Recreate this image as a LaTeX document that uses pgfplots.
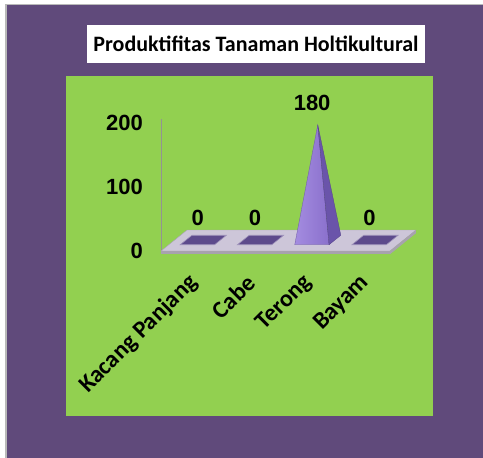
\documentclass[border=0pt]{standalone}
\usepackage{pgfplots}
\pgfplotsset{compat=1.18}
\usepackage{fontspec}
\setmainfont{Carlito}
\newfontfamily\arialf{Liberation Sans}
\definecolor{bgpurple}{HTML}{604A7B}
\definecolor{chartgreen}{HTML}{92D050}
\definecolor{floorc}{HTML}{CDC6D9}
\definecolor{flooredge}{HTML}{A7A2AE}
\definecolor{barc}{HTML}{5D4A8C}
\definecolor{pyrlight}{HTML}{A48CE0}
\definecolor{pyrmid}{HTML}{8A70CC}
\definecolor{pyrdark}{HTML}{6A54AA}
\begin{document}
\begin{tikzpicture}
\useasboundingbox (0,0) rectangle (483pt,-458pt);
\fill[white] (0,0) rectangle (483pt,-458pt);
\fill[gray!55] (5pt,-3.5pt) rectangle (483pt,-458pt);
\fill[bgpurple] (6.5pt,-5pt) rectangle (483pt,-458pt);
\fill[chartgreen] (66pt,-76pt) rectangle (433pt,-416pt);
\node[fill=white, minimum width=338pt, minimum height=38pt, inner sep=0pt,
      font=\bfseries\fontsize{22}{26}\selectfont] at (256pt,-44pt)
      {Produktifitas Tanaman Holtikultural};
\begin{axis}[
  at={(161pt,-251pt)}, anchor=south west,
  x=57.25pt, y=0.64pt,
  xmin=-0.5, xmax=3.5, ymin=0, ymax=206,
  clip=false,
  axis lines*=left,
  x axis line style={draw=none},
  y axis line style={draw=gray!85, line width=0.7pt},
  xtick={0,1,2,3},
  xticklabels={Kacang Panjang, Cabe, Terong, Bayam},
  ytick={0,100,200},
  major tick length=0pt,
  /pgf/number format/assume math mode=true,
  xticklabel style={rotate=45, anchor=east, inner sep=0pt, xshift=-16.8pt, yshift=-22.8pt,
     font=\bfseries\fontsize{24}{28}\selectfont},
  yticklabel style={font=\arialf\bfseries\fontsize{22}{26}\selectfont, anchor=east,
     inner sep=0pt, xshift=-18pt},
]
% floor
\addplot[fill=floorc, draw=flooredge, line width=0.4pt] coordinates
  {(-0.5,0) (3.5,0) (3.954,32.8) (-0.046,32.8)} -- cycle;
\addplot[fill=flooredge, draw=none] coordinates
  {(-0.5,0) (3.5,0) (3.5,-5) (-0.5,-5)} -- cycle;
\addplot[fill=flooredge, draw=none] coordinates
  {(3.5,0) (3.954,32.8) (3.954,27.8) (3.5,-5)} -- cycle;
% zero-valued bars (flat squares): Kacang Panjang, Cabe, Bayam
\addplot[fill=barc, draw=barc!60!white, line width=0.6pt] coordinates
  {(-0.164,9.84) (0.436,9.84) (0.641,24.6) (0.041,24.6)} -- cycle;
\addplot[fill=barc, draw=barc!60!white, line width=0.6pt] coordinates
  {(0.836,9.84) (1.436,9.84) (1.641,24.6) (1.041,24.6)} -- cycle;
\addplot[fill=barc, draw=barc!60!white, line width=0.6pt] coordinates
  {(2.836,9.84) (3.436,9.84) (3.641,24.6) (3.041,24.6)} -- cycle;
% Terong pyramid, value 180 (apex at 180 + half depth)
\addplot[left color=pyrlight, right color=pyrmid, draw=pyrmid!80!black, line width=0.3pt] coordinates
  {(1.836,9.84) (2.436,9.84) (2.2385,197.2)} -- cycle;
\addplot[fill=pyrdark, draw=pyrdark!80!black, line width=0.3pt] coordinates
  {(2.436,9.84) (2.641,24.6) (2.2385,197.2)} -- cycle;
% value labels
\addplot[draw=none, nodes near coords,
  every node near coord/.append style={anchor=south, inner sep=0pt, xshift=8pt, yshift=25pt,
     font=\arialf\bfseries\fontsize{22}{26}\selectfont}]
  coordinates {(0,0) (1,0) (2,180) (3,0)};
\end{axis}
\end{tikzpicture}
\end{document}
